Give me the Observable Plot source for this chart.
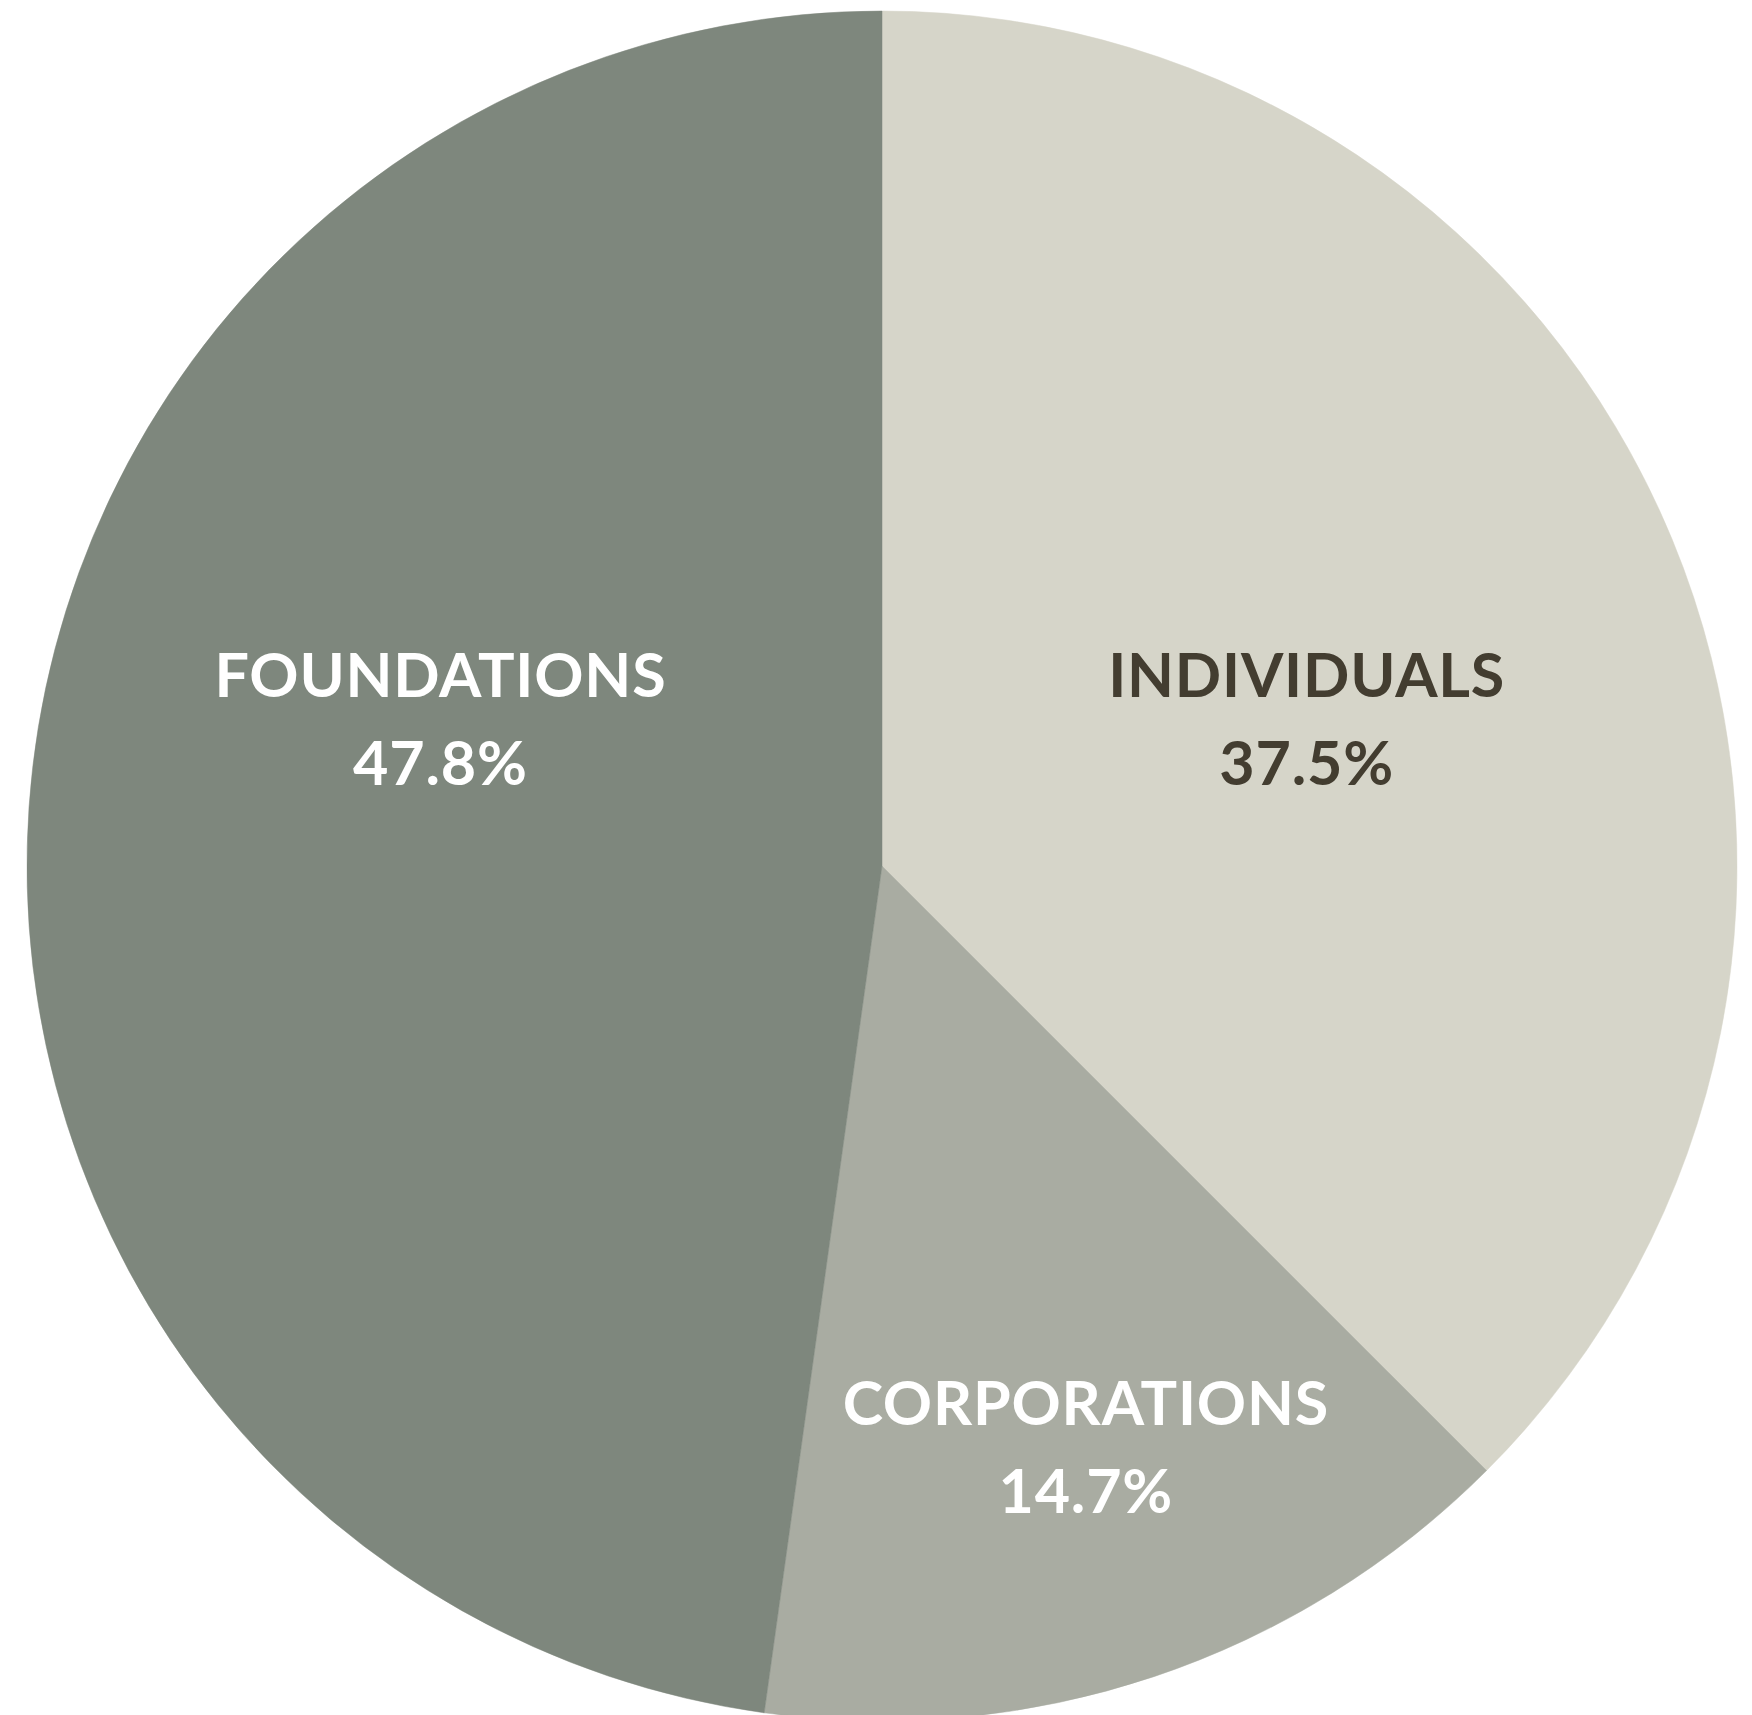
<!DOCTYPE html>
<html><head><meta charset="utf-8">
<script src="https://cdn.jsdelivr.net/npm/d3@7"></script>
<script src="https://cdn.jsdelivr.net/npm/@observablehq/plot@0.6"></script>
<style>
html,body{margin:0;padding:0;background:#fff;overflow:hidden}
#chart svg text{letter-spacing:0.8px}
</style>
</head><body><div id="chart"></div>
<script>
// ---- data ----
const categories = ["INDIVIDUALS", "CORPORATIONS", "FOUNDATIONS"];
const shares = [37.5, 14.7, 47.8];
const percentLabels = ["37.5%", "14.7%", "47.8%"];

// ---- styling / layout (not data) ----
const sliceColors = ["#d6d5c9", "#a9aca2", "#7e877d"];
const labelColors = ["#433d30", "#ffffff", "#ffffff"];
// label placement: angle (deg, clockwise from top) and fraction of radius
const labelAngle = [71.2, 160.8, 288.1];
const labelRadius = [0.524, 0.723, 0.544];

const rows = categories.map((c, i) => ({
  category: c,
  share: shares[i],
  label: c + "\n" + percentLabels[i],
  color: sliceColors[i],
  textColor: labelColors[i],
  lx: labelRadius[i] * Math.sin(labelAngle[i] * Math.PI / 180),
  ly: labelRadius[i] * Math.cos(labelAngle[i] * Math.PI / 180)
}));

const arcs = d3.pie().sort(null).value(d => d.share)(rows);

function pieMark(index, scales, values, dimensions, context) {
  const {x, y} = scales;
  const cx = x(0), cy = y(0), r = Math.abs(x(1) - x(0));
  const arc = d3.arc().innerRadius(0).outerRadius(r);
  const g = d3.create("svg:g").attr("transform", `translate(${cx},${cy})`);
  g.selectAll("path").data(arcs).join("path")
    .attr("d", arc)
    .attr("fill", d => d.data.color)
    .attr("stroke", d => d.data.color)
    .attr("stroke-width", 0.5);
  return g.node();
}

const chart = Plot.plot({
  width: 1752,
  height: 1715,
  margin: 0,
  x: {domain: [-1, 1], range: [27, 1737], axis: null},
  y: {domain: [-1, 1], range: [1721, 11], axis: null},
  style: {background: "white", overflow: "visible", fontFamily: "Lato"},
  marks: [
    pieMark,
    Plot.text(rows, {
      x: "lx", y: "ly", text: "label",
      fill: "textColor",
      fontSize: 61, fontWeight: 700, fontFamily: "Lato",
      lineHeight: 1.44, textAnchor: "middle", dy: -9
    })
  ]
});
document.getElementById("chart").appendChild(chart);
</script>
</body></html>
